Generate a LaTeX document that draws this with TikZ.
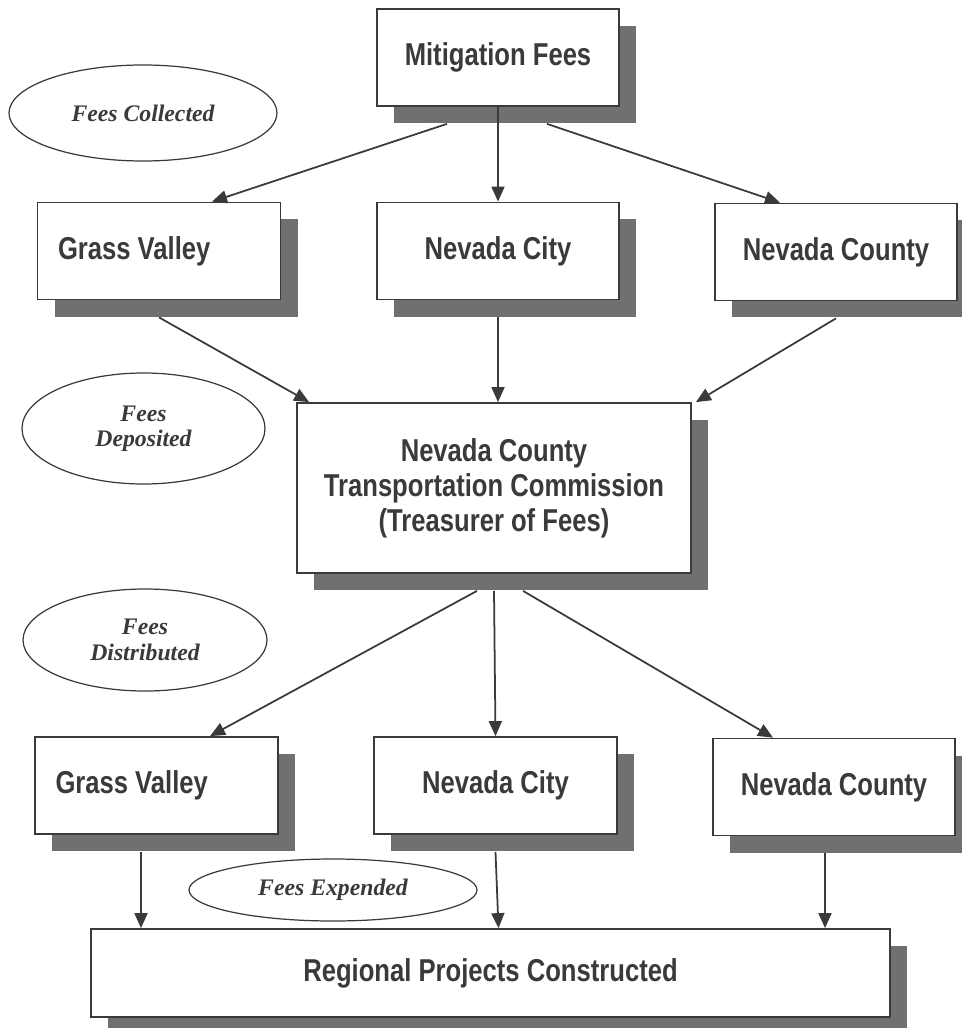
\documentclass[tikz,border=0pt]{standalone}
\usepackage{fontspec}
\setmainfont{Liberation Serif}
\newfontfamily\boxfont[FakeStretch=0.81, WordSpace=1.0]{Liberation Sans}
\usetikzlibrary{shapes.geometric, arrows.meta, shadows}
\definecolor{ink}{HTML}{3A3A3A}
\definecolor{shade}{HTML}{707070}
\tikzstyle{box} = [rectangle, minimum width=4.86cm, minimum
height=1.94cm, text centered, draw=ink, line width=1pt, fill=white, text=ink,
font=\boxfont\bfseries\fontsize{18}{20}\selectfont,
drop shadow={shadow xshift=0.34cm, shadow yshift=-0.34cm, fill=shade, opacity=1}]
\tikzstyle{tag} = [ellipse, draw=ink, line width=0.7pt, text=ink,
align=center, inner sep=0pt, font=\bfseries\itshape\fontsize{13.5}{14.5}\selectfont]
\tikzstyle{arrow} =
[line width=1pt, draw=ink, -{Triangle[length=0.3cm, width=0.26cm]}]

\begin{document}
\begin{tikzpicture}
\useasboundingbox (0,0) rectangle (19.22,-20.56);

\node(mit)[box, minimum width=4.84cm] at (9.96,-1.15){Mitigation Fees};
\node(gvA)[box, text width=4.04cm, align=flush left] at (3.18,-5.02){Grass Valley};
\node(ncA)[box, minimum width=4.84cm] at (9.96,-5.02){Nevada City};
\node(ncoA)[box, minimum width=4.84cm] at (16.72,-5.04){Nevada County};
\node(nctc)[box, minimum width=7.88cm, minimum height=3.4cm, text width=7cm,
align=flush center] at (9.88,-9.76){Nevada County\\Transportation Commission\\(Treasurer of Fees)};
\node(gvB)[box, text width=4.04cm, align=flush left] at (3.13,-15.71){Grass Valley};
\node(ncB)[box] at (9.91,-15.71){Nevada City};
\node(ncoB)[box, minimum width=4.84cm] at (16.68,-15.74){Nevada County};
\node(proj)[box, minimum width=15.98cm, minimum height=1.76cm] at (9.81,-19.46){Regional Projects Constructed};

\node(collected)[tag, minimum width=5.36cm, minimum height=1.92cm] at (2.86,-2.26){Fees Collected};
\node(deposited)[tag, minimum width=4.86cm, minimum height=2.22cm] at (2.87,-8.57){Fees\\Deposited};
\node(distributed)[tag, minimum width=4.88cm, minimum height=2.04cm] at (2.9,-12.8){Fees\\Distributed};
\node(expended)[tag, minimum width=5.76cm, minimum height=1.24cm] at (6.66,-17.8){Fees Expended};

\draw[arrow]([xshift=-1.02cm, yshift=-0.34cm]mit.south) -- ([xshift=1.06cm]gvA.north);
\draw[arrow](mit.south) -- (ncA.north);
\draw[arrow]([xshift=0.98cm, yshift=-0.34cm]mit.south) -- ([xshift=-1.12cm]ncoA.north);

\draw[arrow]([yshift=-0.34cm]gvA.south) -- ([xshift=0.26cm]nctc.north west);
\draw[arrow]([yshift=-0.34cm]ncA.south) -- (ncA.south |- nctc.north);
\draw[arrow]([yshift=-0.34cm]ncoA.south) -- ([xshift=0.08cm]nctc.north east);

\draw[arrow]([xshift=-0.34cm, yshift=-0.34cm]nctc.south) -- ([xshift=1.07cm]gvB.north);
\draw[arrow]([yshift=-0.34cm]nctc.south) -- (ncB.north);
\draw[arrow]([xshift=0.58cm, yshift=-0.34cm]nctc.south) -- ([xshift=-1.22cm]ncoB.north);

\draw[arrow]([xshift=-0.31cm, yshift=-0.34cm]gvB.south) -- ([xshift=-0.31cm]gvB.south |- proj.north);
\draw[arrow]([yshift=-0.34cm]ncB.south) -- ([xshift=0.06cm]ncB.south |- proj.north);
\draw[arrow]([xshift=-0.18cm, yshift=-0.34cm]ncoB.south) -- ([xshift=-0.18cm]ncoB.south |- proj.north);

\end{tikzpicture}
\end{document}
